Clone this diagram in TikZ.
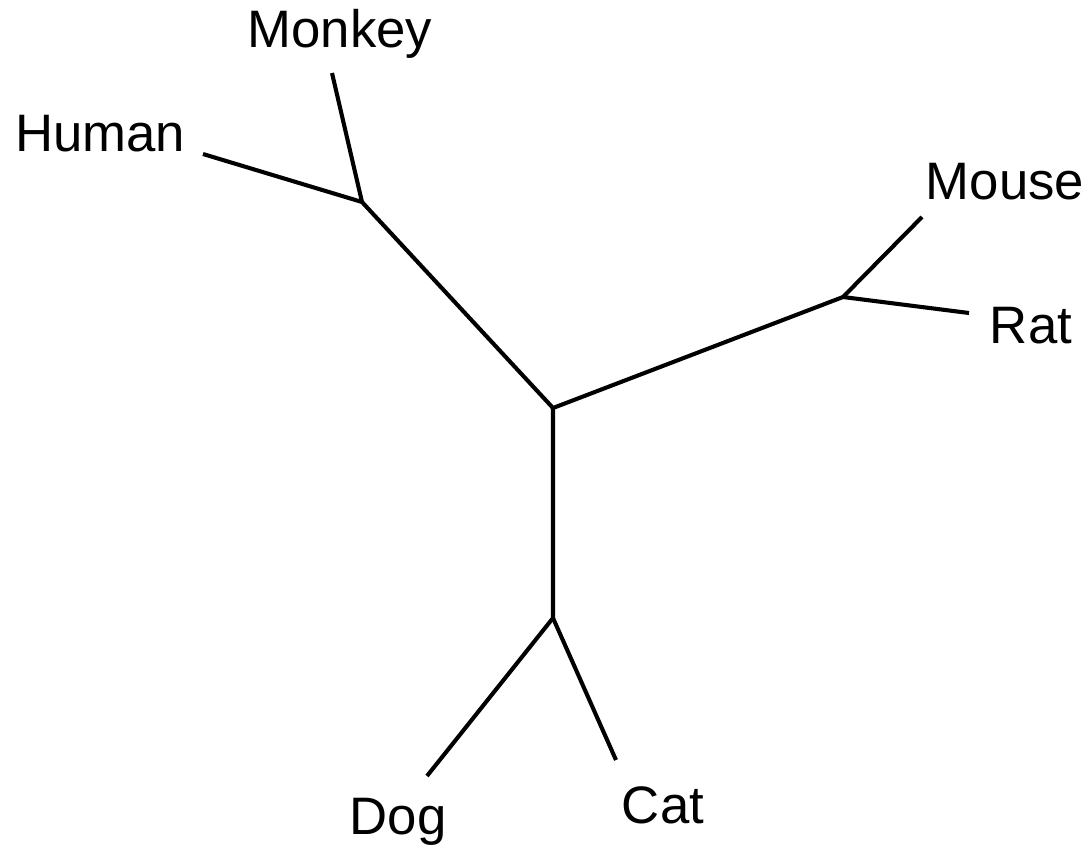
\documentclass[tikz,border=0pt]{standalone}
\usepackage{fontspec}
\setmainfont{Liberation Sans}

\begin{document}
\begin{tikzpicture}[x=0.025cm, y=-0.025cm,
    branch/.style={line width=2.9pt, line cap=butt, line join=miter},
    taxon/.style={font=\fontsize{37.5}{45}\selectfont, inner sep=0pt}]
    \useasboundingbox (0,0) rectangle (1089,850);
    % Inner nodes of the tree
    \coordinate (root) at (553,408);
    \coordinate (primates) at (362,202);
    \coordinate (rodents) at (843,297);
    \coordinate (carnivores) at (553,618);
    % Leaves
    \coordinate (human) at (203,154);
    \coordinate (monkey) at (332,73);
    \coordinate (mouse) at (922,217);
    \coordinate (rat) at (969,313);
    \coordinate (dog) at (427,776);
    \coordinate (cat) at (616,760);
    % Names
    \node[taxon] (humanlbl) at (100,134) {Human};
    \node[taxon] (monkeylbl) at (340,34) {Monkey};
    \node[taxon] (mouselbl) at (1005,182) {Mouse};
    \node[taxon] (ratlbl) at (1031,326) {Rat};
    \node[taxon] (doglbl) at (398,822) {Dog};
    \node[taxon] (catlbl) at (663,805) {Cat};
    % Branches
    \draw[branch] (human) -- (primates) -- (root) -- (rodents) -- (rat);
    \draw[branch] (monkey) -- (primates);
    \draw[branch] (mouse) -- (rodents);
    \draw[branch] (root) -- (carnivores) -- (dog);
    \draw[branch] (carnivores) -- (cat);
\end{tikzpicture}
\end{document}
